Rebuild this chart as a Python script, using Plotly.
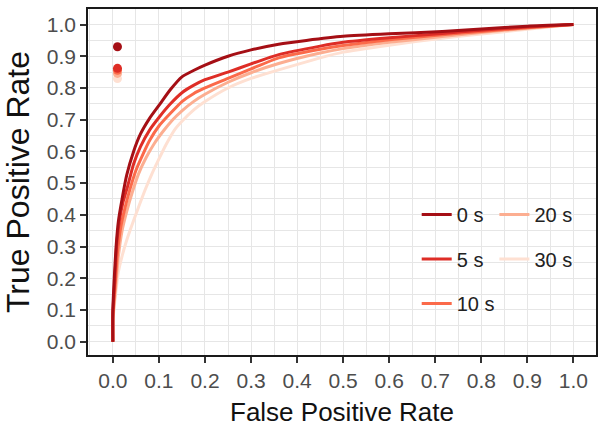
import plotly.graph_objects as go

labels = ["0 s", "5 s", "10 s", "20 s", "30 s"]
colors = ["#a50f15", "#de2d26", "#fb6a4a", "#fcae91", "#fee0d2"]

fpr_0s = [0, 0, 0.003, 0.007, 0.012, 0.02, 0.03, 0.045, 0.06, 0.08, 0.1, 0.125, 0.15, 0.175, 0.2, 0.25, 0.3, 0.36, 0.42, 0.5, 0.6, 0.715, 0.8, 0.9, 1.0]
tpr_0s = [0, 0.1, 0.2, 0.3, 0.38, 0.45, 0.525, 0.6, 0.655, 0.705, 0.745, 0.795, 0.835, 0.855, 0.872, 0.9, 0.92, 0.938, 0.95, 0.963, 0.971, 0.978, 0.986, 0.995, 1.0]

fpr_5s = [0, 0, 0.004, 0.008, 0.014, 0.022, 0.032, 0.045, 0.06, 0.08, 0.1, 0.125, 0.15, 0.175, 0.2, 0.25, 0.3, 0.36, 0.45, 0.5, 0.6, 0.715, 0.8, 0.9, 1.0]
tpr_5s = [0, 0.09, 0.19, 0.3, 0.38, 0.44, 0.49, 0.56, 0.615, 0.668, 0.707, 0.75, 0.785, 0.808, 0.826, 0.85, 0.876, 0.905, 0.932, 0.944, 0.958, 0.972, 0.982, 0.992, 1.0]

fpr_10s = [0, 0, 0.005, 0.01, 0.017, 0.026, 0.037, 0.05, 0.065, 0.08, 0.1, 0.125, 0.15, 0.175, 0.2, 0.25, 0.3, 0.36, 0.45, 0.5, 0.6, 0.715, 0.8, 0.9, 1.0]
tpr_10s = [0, 0.08, 0.18, 0.28, 0.36, 0.42, 0.48, 0.54, 0.59, 0.635, 0.68, 0.72, 0.757, 0.782, 0.80, 0.83, 0.86, 0.895, 0.922, 0.934, 0.952, 0.968, 0.978, 0.99, 1.0]

fpr_20s = [0, 0, 0.006, 0.012, 0.02, 0.03, 0.042, 0.056, 0.072, 0.09, 0.11, 0.13, 0.15, 0.175, 0.2, 0.25, 0.3, 0.36, 0.45, 0.5, 0.6, 0.715, 0.8, 0.9, 1.0]
tpr_20s = [0, 0.07, 0.17, 0.27, 0.35, 0.41, 0.47, 0.53, 0.58, 0.625, 0.665, 0.7, 0.728, 0.757, 0.78, 0.818, 0.848, 0.877, 0.91, 0.924, 0.944, 0.962, 0.975, 0.988, 1.0]

fpr_30s = [0, 0, 0.006, 0.012, 0.02, 0.03, 0.047, 0.069, 0.085, 0.098, 0.115, 0.134, 0.15, 0.175, 0.2, 0.25, 0.3, 0.36, 0.45, 0.5, 0.6, 0.715, 0.8, 0.9, 1.0]
tpr_30s = [0, 0.06, 0.15, 0.22, 0.27, 0.32, 0.39, 0.475, 0.53, 0.57, 0.62, 0.668, 0.695, 0.73, 0.757, 0.80, 0.83, 0.857, 0.895, 0.913, 0.935, 0.957, 0.97, 0.985, 1.0]

point_fpr = [0.01, 0.01, 0.01, 0.01, 0.01]
point_tpr = [0.93, 0.862, 0.856, 0.846, 0.83]

x_ticks = [0.0, 0.1, 0.2, 0.3, 0.4, 0.5, 0.6, 0.7, 0.8, 0.9, 1.0]
x_ticklabels = ["0.0", "0.1", "0.2", "0.3", "0.4", "0.5", "0.6", "0.7", "0.8", "0.9", "1.0"]
y_ticks = x_ticks
y_ticklabels = x_ticklabels

curves = [(fpr_0s, tpr_0s), (fpr_5s, tpr_5s), (fpr_10s, tpr_10s), (fpr_20s, tpr_20s), (fpr_30s, tpr_30s)]

FONT = "Liberation Sans, Arial, Helvetica, sans-serif"

fig = go.Figure()

# draw lightest first so darker curves on top
for i in reversed(range(5)):
    fx, fy = curves[i]
    fig.add_trace(go.Scatter(
        x=fx, y=fy, mode="lines", name=labels[i],
        line=dict(color=colors[i], width=3, shape="spline", smoothing=0.5),
        legend="legend" if i < 3 else "legend2",
        legendgroup=labels[i],
        legendrank=i,
    ))
for i in reversed(range(5)):
    fig.add_trace(go.Scatter(
        x=[point_fpr[i]], y=[point_tpr[i]], mode="markers",
        marker=dict(color=colors[i], size=9),
        showlegend=False, hoverinfo="skip",
    ))

grid = "#e6e6e6"
axis_common = dict(
    showline=True, mirror=True, linecolor="#1a1a1a", linewidth=1.5,
    ticks="outside", ticklen=6, tickwidth=1.5, tickcolor="#333333",
    showgrid=True, gridcolor=grid, gridwidth=1.3,
    zeroline=False,
    tickfont=dict(family=FONT, size=21, color="#4d4d4d"),
    minor=dict(dtick=0.05, showgrid=True, gridcolor=grid, gridwidth=1.0, ticks=""),
)

fig.update_xaxes(
    range=[-0.054, 1.049], tickvals=x_ticks, ticktext=x_ticklabels,
    title=dict(text="False Positive Rate", font=dict(family=FONT, size=26, color="#111111"), standoff=12),
    **axis_common,
)
fig.update_yaxes(
    range=[-0.042, 1.049], tickvals=y_ticks, ticktext=y_ticklabels,
    title=dict(text="True Positive Rate", font=dict(family=FONT, size=32, color="#111111"), standoff=8),
    **axis_common,
)

# white legend background box (between grid and traces)
fig.add_shape(type="rect", xref="paper", yref="paper",
              x0=(408 - 88) / 510, x1=(586 - 88) / 510,
              y0=(355 - 333) / 346, y1=(355 - 166) / 346,
              fillcolor="white", line=dict(width=0), layer="between")

legend_common = dict(
    bgcolor="rgba(0,0,0,0)", borderwidth=0,
    font=dict(family=FONT, size=20, color="#222222"),
    traceorder="grouped", tracegroupgap=15.5,
    itemwidth=30, xanchor="left", yanchor="top",
)

fig.update_layout(
    width=603, height=436,
    margin=dict(l=88, r=5, t=9, b=81),
    paper_bgcolor="white", plot_bgcolor="white",
    showlegend=True,
    legend=dict(x=(418 - 88) / 510, y=(355 - 195) / 346, **legend_common),
    legend2=dict(x=(496 - 88) / 510, y=(355 - 195) / 346, **legend_common),
)

fig.write_html("out.html")
